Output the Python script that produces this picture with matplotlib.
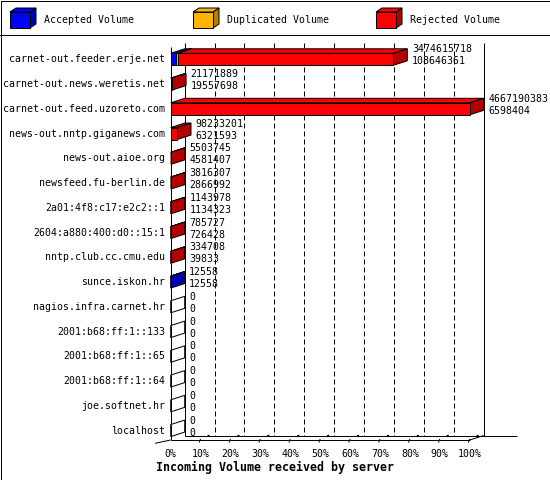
import matplotlib
matplotlib.use('Agg')
import numpy as np
import matplotlib.pyplot as plt
from matplotlib.patches import Polygon, Rectangle

# data
hosts = ['carnet-out.feeder.erje.net', 'carnet-out.news.weretis.net',
         'carnet-out.feed.uzoreto.com', 'news-out.nntp.giganews.com',
         'news-out.aioe.org', 'newsfeed.fu-berlin.de', '2a01:4f8:c17:e2c2::1',
         '2604:a880:400:d0::15:1', 'nntp.club.cc.cmu.edu', 'sunce.iskon.hr',
         'nagios.infra.carnet.hr', '2001:b68:ff:1::133', '2001:b68:ff:1::65',
         '2001:b68:ff:1::64', 'joe.softnet.hr', 'localhost']
accepted = [85000000, 0, 0, 0, 0, 0, 0, 0, 0, 12558, 0, 0, 0, 0, 0, 0]
duplicated = [23000000, 0, 0, 0, 0, 0, 0, 0, 0, 0, 0, 0, 0, 0, 0, 0]
rejected = [3366615718, 21171889, 4667190383, 98233201, 5503745, 3816307,
            1143978, 785727, 334708, 0, 0, 0, 0, 0, 0, 0]
total_labels = ['3474615718', '21171889', '4667190383', '98233201', '5503745',
                '3816307', '1143978', '785727', '334708', '12558',
                '0', '0', '0', '0', '0', '0']
second_labels = ['108646361', '19557698', '6598404', '6321593', '4581407',
                 '2866992', '1134323', '726428', '39833', '12558',
                 '0', '0', '0', '0', '0', '0']
series = ['Accepted Volume', 'Duplicated Volume', 'Rejected Volume']
face_colors = ['#0000ff', '#ffb400', '#ff0000']
side_colors = ['#0000b4', '#b47e00', '#b40000']
pct_ticks = list(range(0, 101, 10))
xlabel = 'Incoming Volume received by server'

W, H = 550, 480
FONT = 'DejaVu Sans Mono'
FS = 7.15
LW = 0.72

fig = plt.figure(figsize=(W / 100, H / 100), dpi=100)
fig.patch.set_facecolor('white')

# pixel frame for the legend and the border
lax = fig.add_axes([0, 0, 1, 1])
lax.set_xlim(0, W)
lax.set_ylim(H, 0)
lax.axis('off')
lax.add_patch(Rectangle((0.5, 0.5), W - 1, H - 1, fill=False, ec='black', lw=LW))
lax.plot([0, W], [35, 35], color='black', lw=LW)
for i, name in enumerate(series):
    x = 10 + 183 * i
    lax.add_patch(Polygon([(x, 12), (x + 20, 12), (x + 26, 8), (x + 6, 8)],
                          fc=face_colors[i], ec='black', lw=LW))
    lax.add_patch(Polygon([(x + 20, 12), (x + 20, 28), (x + 26, 24), (x + 26, 8)],
                          fc=side_colors[i], ec='black', lw=LW))
    lax.add_patch(Rectangle((x, 12), 20, 16, fc=face_colors[i], ec='black', lw=LW))
    lax.text(x + 34, 20, name, family=FONT, fontsize=FS, va='center', ha='left')

# main plot, front plane of the 3d box
X0, X1, YT, YB = 170.7, 469.7, 47, 440
YTOP, YBOT = -0.497, 15.38
ax = fig.add_axes([X0 / W, 1 - YB / H, (X1 - X0) / W, (YB - YT) / H])
ax.set_xlim(0, 100)
ax.set_ylim(YBOT, YTOP)
ax.axis('off')
sx = (X1 - X0) / 100.0
sy = (YB - YT) / (YBOT - YTOP)
DX = 14 / sx
DY = -4.5 / sy
BH = 12 / sy

def line(xs, ys, **kw):
    kw.setdefault('color', 'black')
    kw.setdefault('lw', LW)
    ax.plot(xs, ys, clip_on=False, solid_capstyle='butt', **kw)

# back wall, grid and floor
line([0, 0], [YTOP, YBOT])
line([DX, DX], [YTOP + DY, YBOT + DY])
line([100 + DX, 100 + DX], [YTOP + DY, YBOT + DY])
for p in pct_ticks[1:-1]:
    line([p + DX, p + DX], [YTOP + DY, YBOT + DY], ls=(0, (5, 3)), zorder=1)
line([0, 100], [YBOT, YBOT])
line([DX, 346 / sx], [YBOT + DY, YBOT + DY])
line([100, 100 + DX], [YBOT, YBOT + DY])
line([-15.7 / sx, 0], [YBOT + 3.3 / sy, YBOT])
for p in pct_ticks:
    if p > 0:
        line([p - 1.4 / sx, p], [YBOT + 2.5 / sy, YBOT - 1 / sy])
        line([p + 7 / sx, p + 9 / sx], [YBOT - 3.8 / sy, YBOT - 4.4 / sy], lw=1.4)
    ax.text(p, YBOT + 14 / sy, '%d%%' % p, family=FONT, fontsize=FS,
            ha='center', va='center', clip_on=False)
ax.text(50 - 45 / sx, YBOT + 27 / sy, xlabel, family=FONT, fontsize=8.4,
        fontweight='bold', ha='center', va='center', clip_on=False)

# bars
vals = np.array([accepted, duplicated, rejected], dtype=float)
vmax = vals.sum(axis=0).max()
pcts = vals / vmax * 100
rows = np.arange(len(hosts))
lefts = np.zeros(len(hosts))
for k in range(3):
    for r in rows:
        w = pcts[k][r]
        if w <= 0:
            continue
        x0, x1 = lefts[r], lefts[r] + w
        yt, yb = r - BH / 2, r + BH / 2
        ax.add_patch(Polygon([(x0, yt), (x1, yt), (x1 + DX, yt + DY), (x0 + DX, yt + DY)],
                             fc=face_colors[k], ec='black', lw=LW, zorder=3 + k,
                             clip_on=False))
        ax.add_patch(Polygon([(x1, yt), (x1, yb), (x1 + DX, yb + DY), (x1 + DX, yt + DY)],
                             fc=side_colors[k], ec='black', lw=LW, zorder=3 + k,
                             clip_on=False))
    ax.barh(rows, pcts[k], left=lefts, height=BH, color=face_colors[k],
            edgecolor='black', linewidth=LW, zorder=3 + k, clip_on=False)
    lefts = lefts + pcts[k]

# empty rows: only the outline of the side face
for r in rows:
    if lefts[r] == 0:
        yt, yb = r - BH / 2, r + BH / 2
        ax.add_patch(Polygon([(0, yt), (0, yb), (DX, yb + DY), (DX, yt + DY)],
                             fc='white', ec='black', lw=LW, zorder=3, clip_on=False))

# labels
for r in rows:
    ax.text(-5.7 / sx, r, hosts[r], family=FONT, fontsize=FS, ha='right',
            va='center', clip_on=False)
    xl = lefts[r] + DX + 4.5 / sx
    ax.text(xl, r - 10 / sy, total_labels[r], family=FONT, fontsize=FS,
            ha='left', va='center', clip_on=False, zorder=10)
    ax.text(xl, r + 2 / sy, second_labels[r], family=FONT, fontsize=FS,
            ha='left', va='center', clip_on=False, zorder=10)

fig.savefig('out.png', dpi=100)
